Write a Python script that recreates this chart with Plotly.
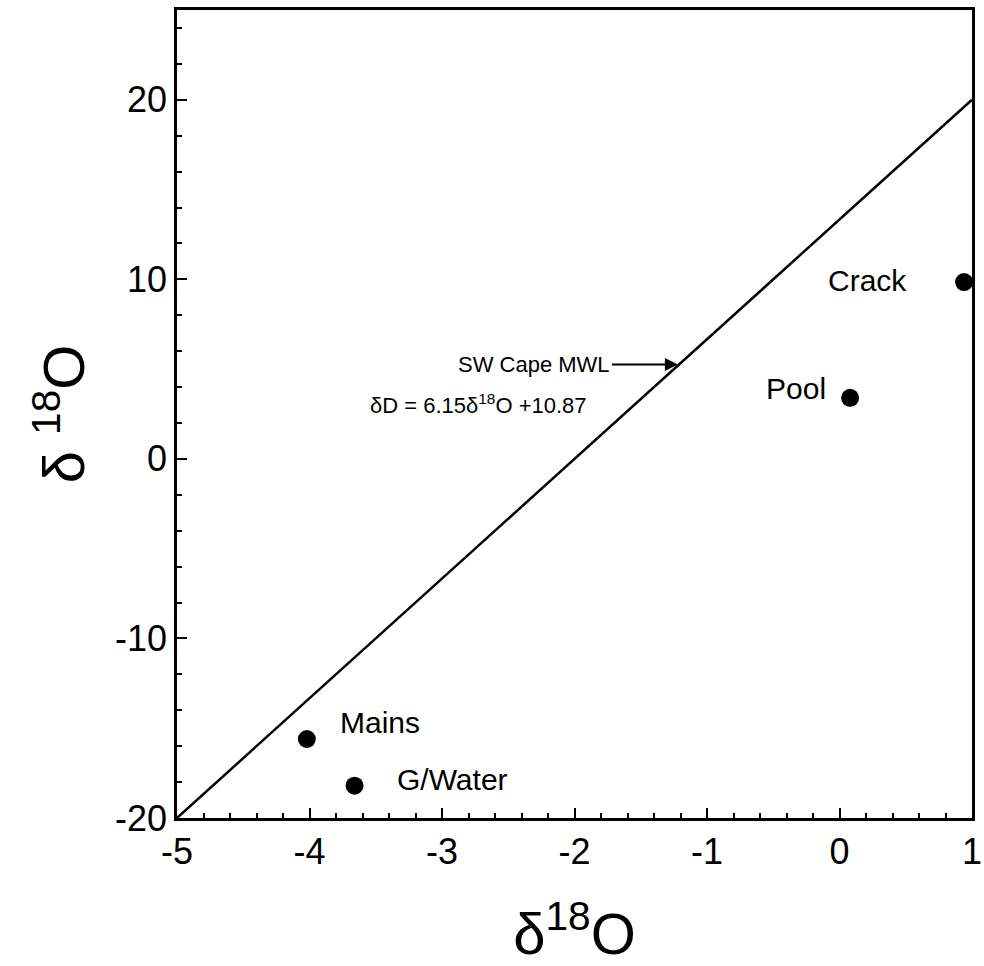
import plotly.graph_objects as go

# Data
sample_names = ["Mains", "G/Water", "Pool", "Crack"]
sample_x = [-4.02, -3.66, 0.08, 0.94]
sample_y = [-15.6, -18.2, 3.4, 9.85]

mwl_x = [-5, 1]
mwl_y = [-20, 20]

x_ticks = [-5, -4, -3, -2, -1, 0, 1]
x_tick_text = ["-5", "-4", "-3", "-2", "-1", "0", "1"]
y_ticks = [-20, -10, 0, 10, 20]
y_tick_text = ["-20", "-10", "0", "10", "20"]

FONT = "Liberation Sans, Arial, Helvetica, sans-serif"

fig = go.Figure()
fig.add_trace(go.Scatter(x=mwl_x, y=mwl_y, mode="lines",
                         line=dict(color="black", width=2.5), showlegend=False,
                         hoverinfo="skip"))
fig.add_trace(go.Scatter(x=sample_x, y=sample_y, mode="markers",
                         marker=dict(color="black", size=18, symbol="circle"),
                         showlegend=False, text=sample_names))

# label offsets (pixels) relative to each point
label_cfg = {
    "Crack": dict(xanchor="right", xshift=-55, yshift=2),
    "Pool": dict(xanchor="right", xshift=-22, yshift=9),
    "Mains": dict(xanchor="left", xshift=31, yshift=17),
    "G/Water": dict(xanchor="left", xshift=40, yshift=6),
}
for name, x, y in zip(sample_names, sample_x, sample_y):
    c = label_cfg[name]
    fig.add_annotation(x=x, y=y, text=name, showarrow=False,
                       xanchor=c["xanchor"], yanchor="middle",
                       xshift=c["xshift"], yshift=c["yshift"],
                       font=dict(family=FONT, size=30, color="black"))

# MWL label with arrow
fig.add_annotation(x=-1.22, y=5.25, text="SW Cape MWL", showarrow=True,
                   ax=-66, ay=0, xanchor="right", yanchor="middle",
                   arrowhead=2, arrowsize=1.3, arrowwidth=2, arrowcolor="black",
                   font=dict(family=FONT, size=22, color="black"))
fig.add_annotation(x=-3.56, y=3.05, text="δD = 6.15δ<sup>18</sup>O +10.87",
                   showarrow=False, xanchor="left", yanchor="middle",
                   font=dict(family=FONT, size=22, color="black"))

axis_common = dict(
    showline=True, linecolor="black", linewidth=2.5, mirror=True,
    ticks="inside", ticklen=10, tickwidth=2, tickcolor="black",
    showgrid=False, zeroline=False, ticklabeloverflow="allow", automargin=False,
    tickfont=dict(family=FONT, size=36, color="black"),
)

fig.update_xaxes(range=[-5, 1], tickvals=x_ticks, ticktext=x_tick_text,
                 minor=dict(dtick=0.2, ticks="inside", ticklen=5, tickwidth=2, tickcolor="black"),
                 title=dict(text="δ<sup>18</sup>O", font=dict(family=FONT, size=58, color="black"),
                            standoff=46),
                 **axis_common)
fig.update_yaxes(range=[-20, 25], tickvals=y_ticks, ticktext=y_tick_text,
                 minor=dict(dtick=2, ticks="inside", ticklen=5, tickwidth=2, tickcolor="black"),
                 title=dict(text="δ <sup>18</sup>O", font=dict(family=FONT, size=58, color="black"),
                            standoff=12),
                 **axis_common)

fig.update_layout(width=984, height=966, autosize=False,
                  margin=dict(l=177, r=12, t=10, b=148),
                  paper_bgcolor="white", plot_bgcolor="white",
                  font=dict(family=FONT, color="black"))

fig.write_html("out.html")
